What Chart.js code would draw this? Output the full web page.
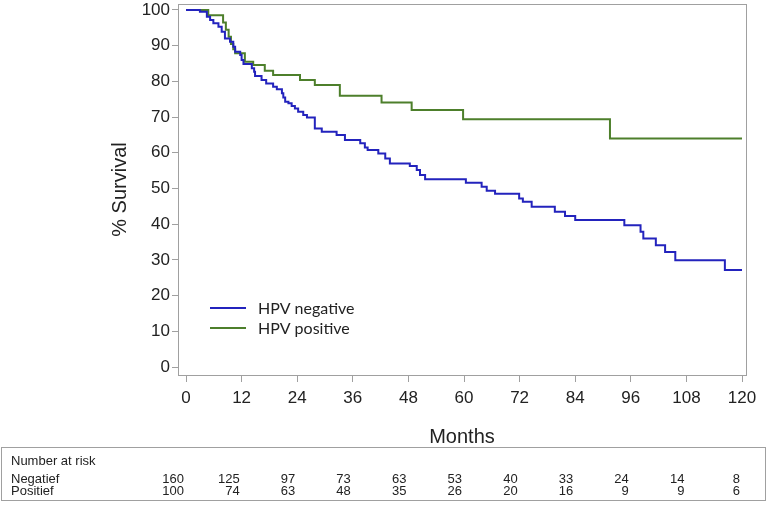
<!DOCTYPE html>
<html>
<head>
<meta charset="utf-8">
<script src="https://cdn.jsdelivr.net/npm/chart.js@4/dist/chart.umd.min.js"></script>
<style>
  html, body { margin: 0; padding: 0; background: #fff; }
  #wrap { width: 767px; height: 505px; }
</style>
</head>
<body>
<div id="wrap"><canvas id="myChart" width="767" height="505"></canvas></div>
<script>
'use strict';

// step points: survival (%) holds from this month on
let negMonths = [0, 3, 4.5, 5.2, 5.9, 7, 7.7, 8.4, 9.5, 10.2, 10.6, 11.7, 12, 12.4, 14.2, 14.7, 14.9,
  16.3, 17.3, 18.8, 19.6, 20.7, 21, 21.4, 22.1, 22.8, 23.5, 24.2, 25.3, 26.1, 27.8, 29.3, 32.5, 34.3,
  37.6, 38.6, 39.2, 41.5, 43, 44, 48.3, 49.8, 50.5, 51.6, 60.4, 63.8, 64.9, 66.7, 71.9, 72.7, 74.6,
  79.6, 81.8, 84, 94.6, 98.1, 98.7, 101.4, 103.4, 105.6, 116.3, 120];
let negSurv = [100, 99.5, 98.1, 97.2, 96.3, 95.3, 93.9, 92.0, 91.1, 89.7, 88.3, 87.4, 86.0, 84.9, 83.7, 82.7, 81.5,
  80.4, 79.4, 78.5, 77.8, 76.7, 75.5, 74.3, 73.9, 73.1, 72.4, 71.5, 70.6, 69.9, 66.8, 65.9, 65.0, 63.6,
  62.7, 61.5, 60.8, 59.8, 58.4, 57.0, 56.3, 55.2, 53.8, 52.6, 51.6, 50.5, 49.4, 48.5, 47.2, 46.3, 44.9,
  43.5, 42.3, 41.2, 39.7, 37.9, 36.0, 34.1, 32.2, 29.9, 27.2, 27.2];

let posMonths = [0, 4.8, 8, 8.6, 9.2, 9.7, 10.2, 10.6, 12.7, 14.5, 17, 18.8, 24.6, 27.8, 33.2, 42.2, 48.7, 59.8, 91.5, 120];
let posSurv = [100, 98.5, 96.5, 94.5, 92.5, 90.5, 89, 87.9, 85.5, 84.6, 83.0, 81.8, 80.4, 79.0, 76.0, 74.1, 72.0, 69.4, 64.0, 64.0];

let seriesNames = ['HPV negative', 'HPV positive'];

let xTicks = [0, 12, 24, 36, 48, 60, 72, 84, 96, 108, 120];
let yTicks = [0, 10, 20, 30, 40, 50, 60, 70, 80, 90, 100];

// number at risk table
let riskTitle = 'Number at risk';
let riskGroups = ['Negatief', 'Positief'];
let riskNeg = [160, 125, 97, 73, 63, 53, 40, 33, 24, 14, 8];
let riskPos = [100, 74, 63, 48, 35, 26, 20, 16, 9, 9, 6];

const blue = '#2323bd';
const green = '#4d7f2b';
const frameGray = '#a0a0a0';
const sans = '"Liberation Sans", Arial, sans-serif';

function toPoints(xs, ys) {
  return xs.map((m, i) => ({ x: m, y: ys[i] }));
}

// box around the plot + in-plot legend + risk table underneath
const extras = {
  id: 'extras',
  afterDraw(chart) {
    const ctx = chart.ctx;
    const a = chart.chartArea;
    const xs = chart.scales.x;
    ctx.save();
    ctx.strokeStyle = frameGray;
    ctx.lineWidth = 1;
    ctx.strokeRect(a.left + 0.5, a.top + 0.5, a.right - a.left, a.bottom - a.top);

    // legend
    const colors = [blue, green];
    ctx.font = '16px Lato, "Open Sans", sans-serif';
    ctx.textBaseline = 'middle';
    seriesNames.forEach((name, i) => {
      const y = 308 + i * 20;
      ctx.strokeStyle = colors[i];
      ctx.lineWidth = 2;
      ctx.beginPath();
      ctx.moveTo(210, y);
      ctx.lineTo(246, y);
      ctx.stroke();
      ctx.fillStyle = '#222';
      ctx.textAlign = 'left';
      ctx.fillText(name, 258, y + 1);
    });

    // risk table
    ctx.strokeStyle = frameGray;
    ctx.lineWidth = 1;
    ctx.strokeRect(1.5, 447.5, 764, 53);
    ctx.fillStyle = '#222';
    ctx.font = '13px ' + sans;
    ctx.textAlign = 'left';
    ctx.fillText(riskTitle, 11, 461);
    ctx.fillText(riskGroups[0], 11, 479);
    ctx.fillText(riskGroups[1], 11, 491);
    ctx.textAlign = 'right';
    xTicks.forEach((m, i) => {
      const px = xs.getPixelForValue(m) - 2;
      ctx.fillText(String(riskNeg[i]), px, 479);
      ctx.fillText(String(riskPos[i]), px, 491);
    });
    ctx.restore();
  }
};

let ctx = document.getElementById('myChart').getContext('2d');
let myChart = new Chart(ctx, { //eslint-disable-line
  type: 'line',
  data: {
    datasets: [{
      label: seriesNames[0],
      data: toPoints(negMonths, negSurv),
      borderColor: blue,
      borderWidth: 2,
      stepped: true,
      pointRadius: 0,
      fill: false
    }, {
      label: seriesNames[1],
      data: toPoints(posMonths, posSurv),
      borderColor: green,
      borderWidth: 2,
      stepped: true,
      pointRadius: 0,
      fill: false
    }]
  },
  options: {
    responsive: false,
    animation: false,
    layout: { padding: { left: 104, top: 4, right: 21, bottom: 52 } },
    plugins: {
      legend: { display: false },
      tooltip: { enabled: false }
    },
    scales: {
      x: {
        type: 'linear',
        min: -1.73,
        max: 120.86,
        afterBuildTicks: (axis) => { axis.ticks = xTicks.map(v => ({ value: v })); },
        afterFit: (axis) => { axis.height = 78; axis.paddingLeft = 0; axis.paddingRight = 0; },
        grid: { drawOnChartArea: false, tickLength: 7, color: frameGray },
        border: { display: true, color: frameGray },
        ticks: { color: '#222', font: { family: sans, size: 17 }, padding: 6, maxRotation: 0 },
        title: { display: true, text: 'Months', color: '#222', font: { family: sans, size: 20 } }
      },
      y: {
        min: -2.24,
        max: 101.68,
        afterBuildTicks: (axis) => { axis.ticks = yTicks.map(v => ({ value: v })); },
        afterFit: (axis) => { axis.width = 74; axis.paddingTop = 0; axis.paddingBottom = 0; },
        grid: { drawOnChartArea: false, tickLength: 6, color: frameGray },
        border: { display: true, color: frameGray },
        ticks: { color: '#222', font: { family: sans, size: 17 }, padding: 2 },
        title: { display: true, text: '% Survival', color: '#222', font: { family: sans, size: 20 } }
      }
    }
  },
  plugins: [extras]
});
</script>
</body>
</html>
